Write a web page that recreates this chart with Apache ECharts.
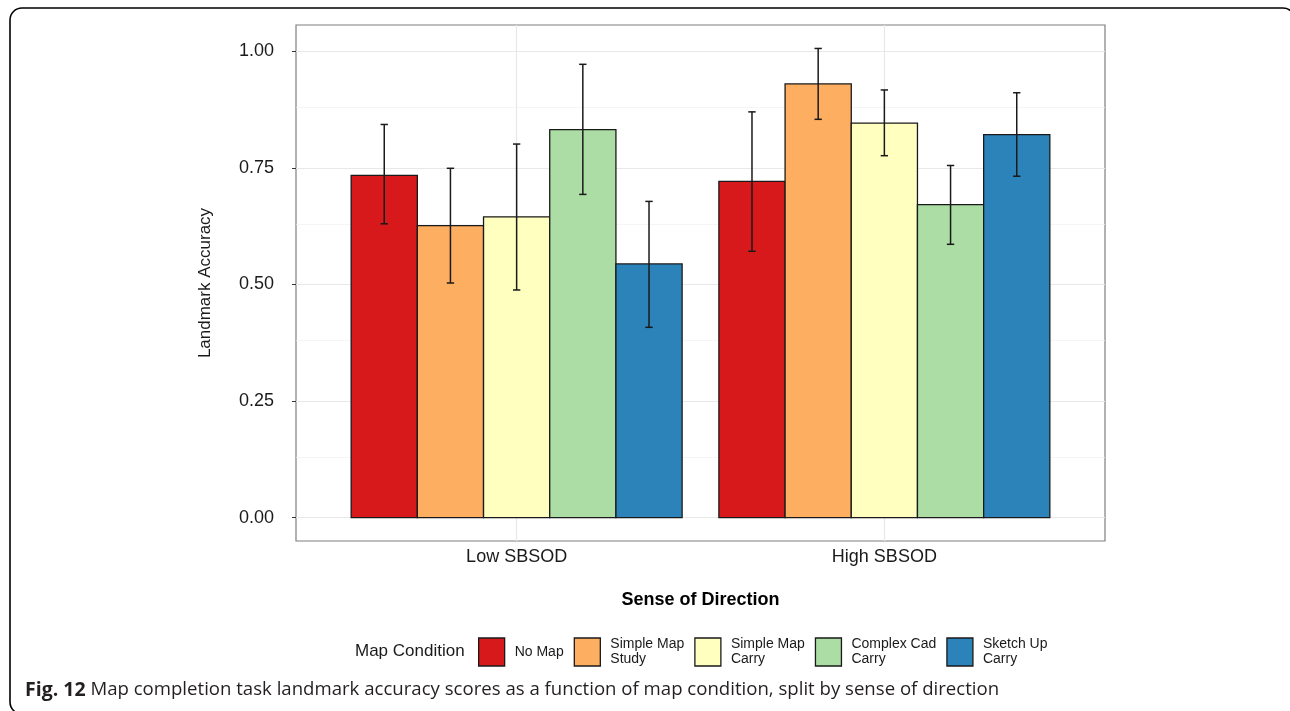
<!DOCTYPE html>
<html>
<head>
<meta charset="utf-8">
<script src="https://cdn.jsdelivr.net/npm/echarts@6/dist/echarts.min.js"></script>
<style>
  html, body { margin: 0; padding: 0; background: #fff; }
  #chart { width: 1290px; height: 711px; }
</style>
</head>
<body>
<div id="chart"></div>
<script>
// groups on the x axis
var groups = ["Low SBSOD", "High SBSOD"];
// map conditions (legend order)
var conditions = ["No Map", "Simple Map Study", "Simple Map Carry", "Complex Cad Carry", "Sketch Up Carry"];
var legendLabels = ["No Map", "Simple Map\nStudy", "Simple Map\nCarry", "Complex Cad\nCarry", "Sketch Up\nCarry"];
var colors = ["#D7191C", "#FDAE61", "#FFFFBF", "#ABDDA4", "#2B83BA"];

// mean accuracy per condition, Low SBSOD
var lowMean  = [0.734, 0.626, 0.645, 0.832, 0.544];
var lowLower = [0.630, 0.503, 0.488, 0.693, 0.408];
var lowUpper = [0.843, 0.749, 0.801, 0.972, 0.678];
// mean accuracy per condition, High SBSOD
var highMean  = [0.721, 0.930, 0.846, 0.671, 0.821];
var highLower = [0.571, 0.854, 0.776, 0.586, 0.732];
var highUpper = [0.870, 1.006, 0.917, 0.755, 0.911];

var yTicks = [0, 0.25, 0.5, 0.75, 1];
var yMinor = [0.125, 0.375, 0.625, 0.875];

var myChart = echarts.init(document.getElementById("chart"));

var barW = 0.18;   // dodge width 0.9 / 5 bars
var capHalf = 0.01;

function makeSeries(k) {
  return {
    name: conditions[k],
    type: "custom",
    z: 2,
    itemStyle: { color: colors[k], borderColor: "#1a1a1a", borderWidth: 1 },
    encode: { x: 0, y: [1, 2, 3] },
    data: [
      [1, lowMean[k], lowLower[k], lowUpper[k]],
      [2, highMean[k], highLower[k], highUpper[k]]
    ],
    renderItem: function (params, api) {
      var xc = api.value(0) + (k - 2) * barW;
      var p0 = api.coord([xc - barW / 2, 0]);
      var p1 = api.coord([xc + barW / 2, api.value(1)]);
      var lo = api.coord([xc, api.value(2)]);
      var hi = api.coord([xc, api.value(3)]);
      var cl = api.coord([xc - capHalf, 0])[0];
      var cr = api.coord([xc + capHalf, 0])[0];
      var err = { stroke: "#1a1a1a", lineWidth: 1.5 };
      return {
        type: "group",
        children: [
          {
            type: "rect",
            shape: { x: p0[0], y: p1[1], width: p1[0] - p0[0], height: p0[1] - p1[1] },
            style: { fill: colors[k], stroke: "#1a1a1a", lineWidth: 1.3 }
          },
          { type: "line", shape: { x1: lo[0], y1: lo[1], x2: hi[0], y2: hi[1] }, style: err },
          { type: "line", shape: { x1: cl, y1: hi[1], x2: cr, y2: hi[1] }, style: err },
          { type: "line", shape: { x1: cl, y1: lo[1], x2: cr, y2: lo[1] }, style: err }
        ]
      };
    }
  };
}

var series = conditions.map(function (c, k) { return makeSeries(k); });

// panel grid lines, drawn under the bars
var gridLines = [];
yTicks.forEach(function (v) {
  gridLines.push({ yAxis: v, lineStyle: { color: "#e8e8e8", width: 1.2, type: "solid" } });
});
yMinor.forEach(function (v) {
  gridLines.push({ yAxis: v, lineStyle: { color: "#f1f1f1", width: 0.7, type: "solid" } });
});
[1, 2].forEach(function (v) {
  gridLines.push({ xAxis: v, lineStyle: { color: "#e8e8e8", width: 1.2, type: "solid" } });
});
series[0].markLine = {
  z: 1,
  silent: true,
  animation: false,
  symbol: ["none", "none"],
  label: { show: false },
  data: gridLines
};

var font = "Liberation Sans";

myChart.setOption({
  animation: false,
  textStyle: { fontFamily: font },
  grid: {
    show: true,
    left: 296, right: 185, top: 25, bottom: 170,
    borderColor: "#7f7f7f",
    borderWidth: 1.2,
    backgroundColor: "#fff"
  },
  xAxis: {
    type: "value",
    min: 0.4,
    max: 2.6,
    splitLine: { show: false },
    axisLine: { show: false },
    axisTick: { show: true, customValues: [1, 2], length: 4, lineStyle: { color: "#333" } },
    axisLabel: {
      customValues: [1, 2],
      formatter: function (v) { return groups[Math.round(v) - 1]; },
      fontSize: 18, color: "#1a1a1a", margin: 7
    },
    name: "Sense of Direction",
    nameLocation: "middle",
    nameGap: 50,
    nameTextStyle: { fontSize: 18, fontWeight: "bold", color: "#000" }
  },
  yAxis: {
    type: "value",
    min: -0.0503,
    max: 1.0563,
    splitLine: { show: false },
    axisLine: { show: false },
    axisTick: { show: true, customValues: yTicks, length: 4, lineStyle: { color: "#333" } },
    axisLabel: {
      customValues: yTicks,
      formatter: function (v) { return v.toFixed(2); },
      fontSize: 18, color: "#1a1a1a", margin: 22
    },
    name: "Landmark Accuracy",
    nameLocation: "middle",
    nameGap: 82,
    nameTextStyle: { fontSize: 17, color: "#1a1a1a" }
  },
  legend: {
    left: 478,
    top: 637,
    orient: "horizontal",
    icon: "rect",
    itemWidth: 26,
    itemHeight: 28,
    itemGap: 10,
    padding: 0,
    data: conditions,
    formatter: function (name) { return legendLabels[conditions.indexOf(name)]; },
    itemStyle: { borderColor: "#1a1a1a", borderWidth: 1.3 },
    textStyle: { fontSize: 14, lineHeight: 15, color: "#1a1a1a", padding: [0, 0, 0, 5] },
    selectedMode: false
  },
  graphic: [
    {
      type: "text",
      left: 355,
      top: 643,
      style: { text: "Map Condition", fontSize: 17, fontFamily: font, fill: "#1a1a1a" }
    },
    {
      type: "text",
      x: 25,
      y: 690,
      style: {
        text: "{b|Fig. 12} Map completion task landmark accuracy scores as a function of map condition, split by sense of direction",
        fontFamily: "Open Sans",
        fontSize: 18.6,
        fill: "#231f20",
        verticalAlign: "middle",
        rich: { b: { fontFamily: "Open Sans", fontWeight: "bold", fontSize: 19.5, fill: "#231f20" } }
      }
    },
    {
      type: "rect",
      shape: { x: 10, y: 8, width: 1285, height: 706, r: 12 },
      style: { fill: "none", stroke: "#000", lineWidth: 1.6 },
      silent: true
    }
  ],
  series: series
});
</script>
</body>
</html>
